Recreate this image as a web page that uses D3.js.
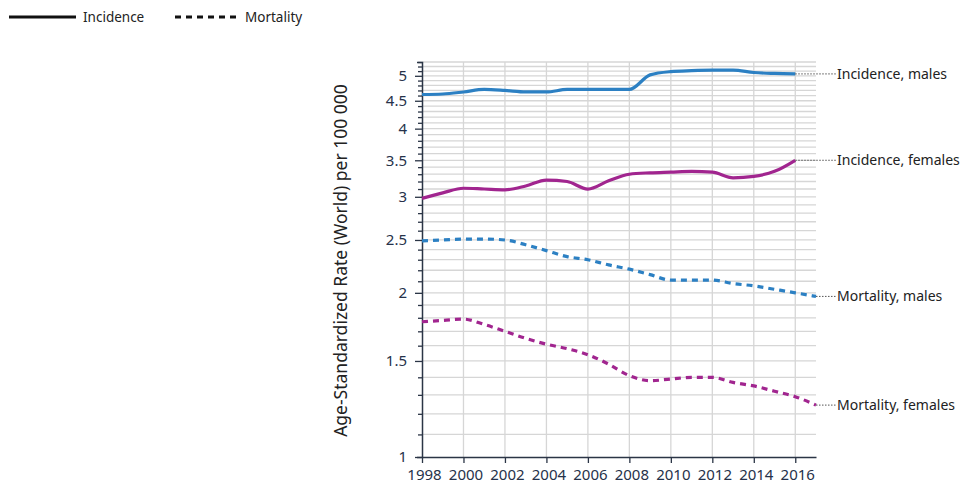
<!DOCTYPE html>
<html><head><meta charset="utf-8">
<script src="https://cdn.jsdelivr.net/npm/d3@7"></script>
<style>body{margin:0;background:#fff;font-family:"Noto Sans","Open Sans",sans-serif;}</style>
</head><body><svg id="c" width="962" height="489"></svg>
<script>
const years = d3.range(1998, 2018);
const incidenceMales = [4.62,4.63,4.67,4.72,4.70,4.67,4.67,4.72,4.72,4.72,4.72,5.02,5.09,5.11,5.12,5.12,5.07,5.05,5.04];
const incidenceFemales = [2.98,3.05,3.11,3.10,3.09,3.14,3.22,3.20,3.10,3.21,3.30,3.32,3.33,3.34,3.33,3.25,3.27,3.34,3.50];
const mortalityMales = [2.49,2.50,2.51,2.51,2.50,2.45,2.39,2.33,2.30,2.25,2.21,2.16,2.11,2.11,2.11,2.08,2.06,2.03,2.00,1.97];
const mortalityFemales = [1.77,1.78,1.79,1.75,1.70,1.65,1.61,1.58,1.54,1.48,1.41,1.38,1.39,1.40,1.40,1.37,1.35,1.32,1.29,1.245];
const yTickLabels = [1,1.5,2,2.5,3,3.5,4,4.5,5];
const xTickLabels = [1998,2000,2002,2004,2006,2008,2010,2012,2014,2016];
const seriesNames = ["Incidence, males","Incidence, females","Mortality, males","Mortality, females"];

const blue = "#2c80c3", mag = "#a1258f", axisCol = "#2b3546", grid = "#d6d6d6";
const svg = d3.select("#c");
const L = 422, R = 816, T = 62, B = 457;
const x = d3.scaleLinear().domain([1998, 2017]).range([L, R]);
const y = d3.scaleLog().domain([1, 5.3]).range([B, T]);

const minor = d3.range(10, 54).map(v => v / 10);
// grid
svg.append("g").selectAll("line").data(minor.filter(v => v > 1)).join("line")
  .attr("x1", L).attr("x2", R).attr("y1", d => y(d)).attr("y2", d => y(d))
  .attr("stroke", grid).attr("stroke-width", 1.3);
svg.append("g").selectAll("line").data(xTickLabels.filter(v => v > 1998)).join("line")
  .attr("x1", d => x(d)).attr("x2", d => x(d)).attr("y1", T).attr("y2", B)
  .attr("stroke", grid).attr("stroke-width", 1.3);

// y axis
const yAxis = svg.append("g").attr("transform", `translate(${L},0)`)
  .call(d3.axisLeft(y).tickValues(minor).tickSize(5).tickFormat(d => yTickLabels.includes(d) ? d3.format("")(d) : ""));
yAxis.select(".domain").attr("stroke", axisCol).attr("stroke-width", 1.5);
yAxis.selectAll(".tick line").attr("stroke", axisCol).attr("stroke-width", 1.3)
  .attr("x2", d => yTickLabels.includes(d) ? -7 : -4);
yAxis.selectAll(".tick text").attr("x", -15).attr("fill", "#26324a")
  .style("font-size", "15px").style("font-family", "'Noto Sans',sans-serif");

// x axis
const xAxis = svg.append("g").attr("transform", `translate(0,${B})`)
  .call(d3.axisBottom(x).tickValues(xTickLabels).tickSize(6).tickFormat(d3.format("d")).tickSizeOuter(0));
xAxis.select(".domain").attr("stroke", axisCol).attr("stroke-width", 1.5);
xAxis.selectAll(".tick line").attr("stroke", axisCol).attr("stroke-width", 1.3);
xAxis.selectAll(".tick text").attr("y", 12).attr("dx", 2).attr("fill", "#26324a")
  .style("font-size", "15px").style("font-family", "'Noto Sans',sans-serif");

// y title
svg.append("text").attr("transform", `translate(347,${(T + B) / 2 + 1}) rotate(-90)`)
  .attr("text-anchor", "middle").attr("fill", "#222").style("font-size", "17.5px")
  .text("Age-Standardized Rate (World) per 100 000");

const series = [
  {vals: incidenceMales, color: blue, dash: null},
  {vals: incidenceFemales, color: mag, dash: null},
  {vals: mortalityMales, color: blue, dash: "6,5"},
  {vals: mortalityFemales, color: mag, dash: "6,5"}
];
const line = d3.line().x((d, i) => x(years[i])).y(d => y(d)).curve(d3.curveMonotoneX);
series.forEach((s, k) => {
  svg.append("path").attr("d", line(s.vals)).attr("fill", "none")
    .attr("stroke", s.color).attr("stroke-width", 3.2)
    .attr("stroke-dasharray", s.dash);
  const lastX = x(years[s.vals.length - 1]), lastY = y(s.vals[s.vals.length - 1]);
  svg.append("line").attr("x1", lastX).attr("x2", 836).attr("y1", lastY).attr("y2", lastY)
    .attr("stroke", "#555").attr("stroke-width", 1).attr("stroke-dasharray", "1.5,1.5");
  svg.append("text").attr("x", 837).attr("y", lastY + 5).attr("fill", "#222")
    .style("font-size", "14px").text(seriesNames[k]);
});

// legend
svg.append("line").attr("x1", 9).attr("x2", 76).attr("y1", 17).attr("y2", 17)
  .attr("stroke", "#111").attr("stroke-width", 3);
svg.append("text").attr("x", 83).attr("y", 22).attr("fill", "#222").style("font-size", "13.5px").text("Incidence");
svg.append("line").attr("x1", 175).attr("x2", 236).attr("y1", 17).attr("y2", 17)
  .attr("stroke", "#111").attr("stroke-width", 3).attr("stroke-dasharray", "6,5");
svg.append("text").attr("x", 245).attr("y", 22).attr("fill", "#222").style("font-size", "13.5px").text("Mortality");
</script></body></html>
